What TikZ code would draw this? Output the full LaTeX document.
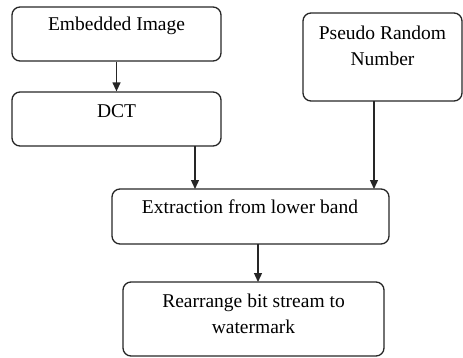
\documentclass[tikz,border=0pt]{standalone}
\usepackage{fontspec}
\setmainfont{Liberation Serif}
\usetikzlibrary{arrows.meta}
\begin{document}
\begin{tikzpicture}[x=1pt,y=-1pt,
  stage/.style={draw=black!85,line width=1.3pt,rounded corners=8pt,inner sep=0pt},
  caption/.style={anchor=base,inner sep=0pt,align=center,
    font=\fontsize{19.5}{26}\selectfont},
  flow/.style={draw=black!85,line width=1.3pt,-{Triangle[length=9pt,width=8pt]}}]
\useasboundingbox (0,0) rectangle (463,357);
% boxes
\node[stage,minimum width=209pt,minimum height=54pt] (emb) at (116.5,34) {};
\node[stage,minimum width=209pt,minimum height=54pt] (dct) at (116.5,119) {};
\node[stage,minimum width=159pt,minimum height=88pt] (prn) at (382.5,57) {};
\node[stage,minimum width=277pt,minimum height=55pt] (ext) at (250.5,216.5) {};
\node[stage,minimum width=261pt,minimum height=74pt] (rbs) at (253.5,319) {};
% texts (multi-line captions are placed by their last baseline)
\node[caption] (tEmb) at (116.5,30) {Embedded Image};
\node[caption] (tDct) at (116.5,117) {DCT};
\node[caption] (tPrn) at (382.5,65) {Pseudo Random\\Number};
\node[caption] (tExt) at (250,213) {Extraction from lower band};
\node[caption] (tRbs) at (253.5,333) {Rearrange bit stream to\\watermark};
% connectors
\coordinate (dctOut) at (195,146);
\coordinate (extInL) at (195,189);
\coordinate (prnOut) at (374,101);
\coordinate (extInR) at (374,189);
\coordinate (extOut) at (258,244);
\coordinate (rbsIn) at (258,282);
\draw[flow] (emb.south) -- (dct.north);
\draw[flow] (dctOut) -- (extInL);
\draw[flow] (prnOut) -- (extInR);
\draw[flow] (extOut) -- (rbsIn);
\end{tikzpicture}
\end{document}
